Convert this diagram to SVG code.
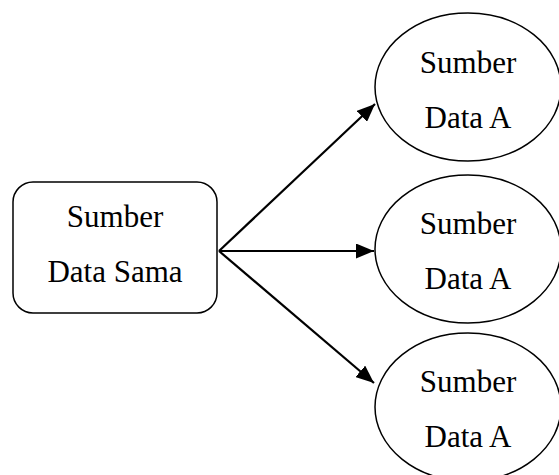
<svg xmlns="http://www.w3.org/2000/svg" width="559" height="475" viewBox="0 0 559 475">
<style>
.shape{fill:#fff;stroke:#000;stroke-width:1.5}
.t{font-family:"Liberation Serif","Times New Roman",serif;font-size:31px;fill:#000;text-anchor:middle}
.c{stroke:#000;stroke-width:2.2;fill:none;marker-end:url(#ah)}
</style>
<defs>
<marker id="ah" markerUnits="userSpaceOnUse" markerWidth="19" markerHeight="15" refX="18" refY="7.5" orient="auto">
<path d="M0,0 L18,7.5 L0,15 Z" fill="#000"/>
</marker>
</defs>
<rect width="559" height="475" fill="#fff"/>
<g id="src">
<rect class="shape" x="13" y="182" width="204" height="131" rx="20" ry="20"/>
<text class="t" x="115" y="227">Sumber</text>
<text class="t" x="115" y="282">Data Sama</text>
</g>
<g id="a1">
<ellipse class="shape" cx="468" cy="87" rx="93" ry="74"/>
<text class="t" x="468" y="73">Sumber</text>
<text class="t" x="468" y="128">Data A</text>
</g>
<g id="a2">
<ellipse class="shape" cx="468" cy="249" rx="93" ry="74"/>
<text class="t" x="468" y="234">Sumber</text>
<text class="t" x="468" y="289">Data A</text>
</g>
<g id="a3">
<ellipse class="shape" cx="468" cy="407" rx="93" ry="74"/>
<text class="t" x="468" y="392">Sumber</text>
<text class="t" x="468" y="447">Data A</text>
</g>
<g id="connectors">
<line class="c" x1="219" y1="251" x2="375" y2="104"/>
<line class="c" x1="219" y1="251" x2="374" y2="251"/>
<line class="c" x1="219" y1="251" x2="374" y2="383"/>
</g>
</svg>
